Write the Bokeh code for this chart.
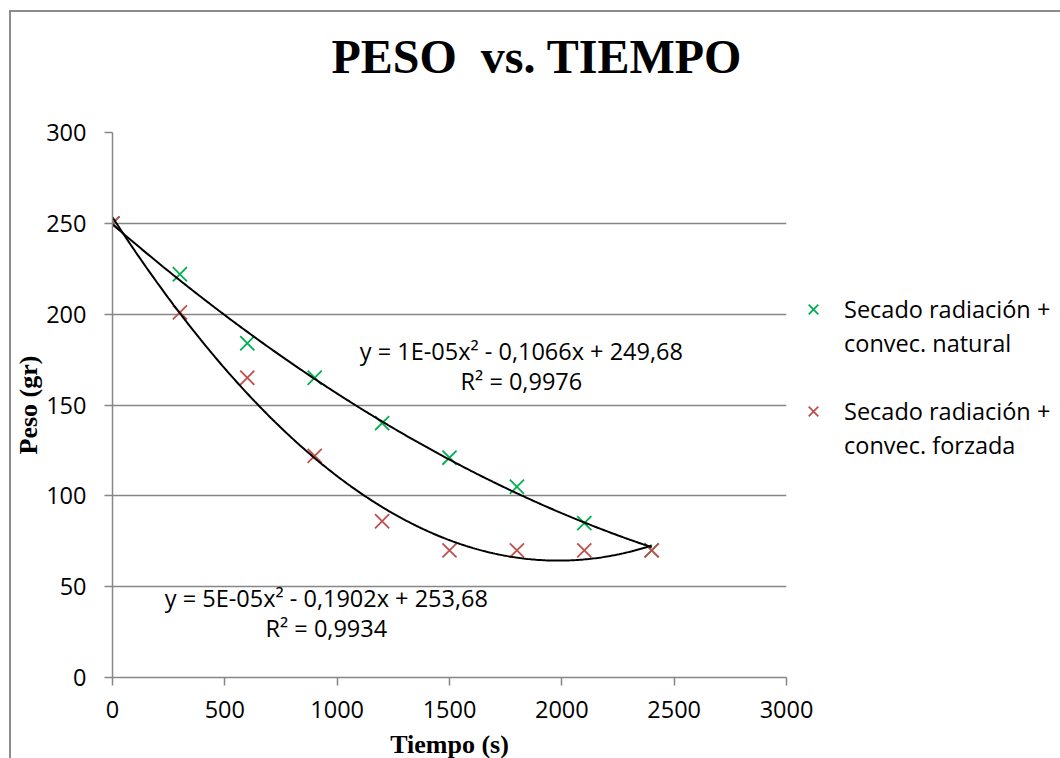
import numpy as np
from bokeh.plotting import figure
from bokeh.models import (FixedTicker, Label, Legend, LegendItem, Title)
from bokeh.embed import file_html
from bokeh.resources import INLINE

# ---- data ----
tiempo = [0, 300, 600, 900, 1200, 1500, 1800, 2100, 2400]
peso_natural = [250, 222, 184, 165, 140, 121, 105, 85, 70]
peso_forzada = [250, 201, 165, 122, 86, 70, 70, 70, 70]
x_ticks = [0, 500, 1000, 1500, 2000, 2500, 3000]
y_ticks = [0, 50, 100, 150, 200, 250, 300]
eq_natural = ["y = 1E-05x² - 0,1066x + 249,68", "R² = 0,9976"]
eq_forzada = ["y = 5E-05x² - 0,1902x + 253,68", "R² = 0,9934"]
label_natural = ["Secado radiación +", "convec. natural"]
label_forzada = ["Secado radiación +", "convec. forzada"]
title_text = "PESO\u00a0 vs. TIEMPO"

GREEN = "#00B050"
RED = "#C0504D"
GRID = "#868686"
SANS = "Open Sans"
SERIF = "Liberation Serif"
FS = "23.5px"

# page offset of the figure (outer chart border drawn by CSS at x=9, y=10)
OX, OY = 11, 12

p = figure(frame_width=674, frame_height=545, x_range=(0, 3000), y_range=(0, 300),
           output_backend="svg", toolbar_location=None,
           min_border_left=111 - OX, min_border_right=275,
           min_border_top=132 - OY, min_border_bottom=81)
p.styles = {"margin-left": "9px", "margin-top": "10px",
            "border-left": "2px solid #8c8c8c", "border-top": "2px solid #8c8c8c"}
p.outline_line_color = None
p.background_fill_color = "white"
p.border_fill_color = "white"

# title (outermost) with an empty spacer title between it and the plot area
p.title = Title(text=title_text, align="left", offset=219, standoff=27,
                text_font=SERIF, text_font_style="bold", text_font_size="48px",
                text_color="black")
p.add_layout(Title(text=" ", text_font_size="10px", standoff=23), "above")

# axes
for ax in (p.xaxis[0], p.yaxis[0]):
    ax.axis_line_color = GRID
    ax.axis_line_width = 1.5
    ax.major_tick_line_color = GRID
    ax.major_tick_line_width = 1.5
    ax.major_tick_out = 8
    ax.major_tick_in = 0
    ax.minor_tick_line_color = None
    ax.major_label_text_font = SANS
    ax.major_label_text_font_size = FS
    ax.major_label_text_color = "black"
    ax.axis_label_text_font = SERIF
    ax.axis_label_text_font_style = "bold"
    ax.axis_label_text_font_size = "26px"
    ax.axis_label_text_color = "black"

p.xaxis.ticker = FixedTicker(ticks=x_ticks)
p.yaxis.ticker = FixedTicker(ticks=y_ticks)
p.xaxis.axis_label = "Tiempo (s)"
p.yaxis.axis_label = "Peso (gr)"
p.xaxis.major_label_standoff = 15
p.yaxis.major_label_standoff = 18
p.xaxis.axis_label_standoff = 9
p.yaxis.axis_label_standoff = 0

p.xgrid.grid_line_color = None
p.ygrid.grid_line_color = GRID
p.ygrid.grid_line_width = 1.5

# markers
r_nat = p.scatter(tiempo, peso_natural, marker="x", size=20, line_color=GREEN, line_width=1.8)
r_for = p.scatter(tiempo, peso_forzada, marker="x", size=20, line_color=RED, line_width=1.8)

# polynomial trendlines (degree 2) fitted to the data
xs = np.linspace(tiempo[0], tiempo[-1], 300)
c_nat = np.polyfit(tiempo, peso_natural, 2)
c_for = np.polyfit(tiempo, peso_forzada, 2)
p.line(xs, np.polyval(c_nat, xs), line_color="black", line_width=2)
p.line(xs, np.polyval(c_for, xs), line_color="black", line_width=2)

# trendline equations
for txt, x, y in [(eq_natural[0], 1820, 180), (eq_natural[1], 1820, 163),
                  (eq_forzada[0], 952, 44), (eq_forzada[1], 952, 27)]:
    p.add_layout(Label(x=x, y=y, text=txt, text_align="center", text_baseline="middle",
                       text_font=SANS, text_font_size=FS, text_color="black"))

# legend in the right panel: marker on first text line, second line without marker
items = [LegendItem(label=label_natural[0], renderers=[r_nat]),
         LegendItem(label=label_natural[1], renderers=[]),
         LegendItem(label=" ", renderers=[]),
         LegendItem(label=label_forzada[0], renderers=[r_for]),
         LegendItem(label=label_forzada[1], renderers=[])]
leg = Legend(items=items, location="top_left",
             padding=0, margin=0, spacing=0,
             glyph_width=54, glyph_height=34, label_height=34,
             label_standoff=4, border_line_color=None, background_fill_alpha=0,
             label_text_font=SANS, label_text_font_size=FS, label_text_color="black",
             title=" ", title_text_font_size="10px", title_standoff=149)
p.add_layout(leg, "right")

open("out.html", "w").write(file_html(p, INLINE))
